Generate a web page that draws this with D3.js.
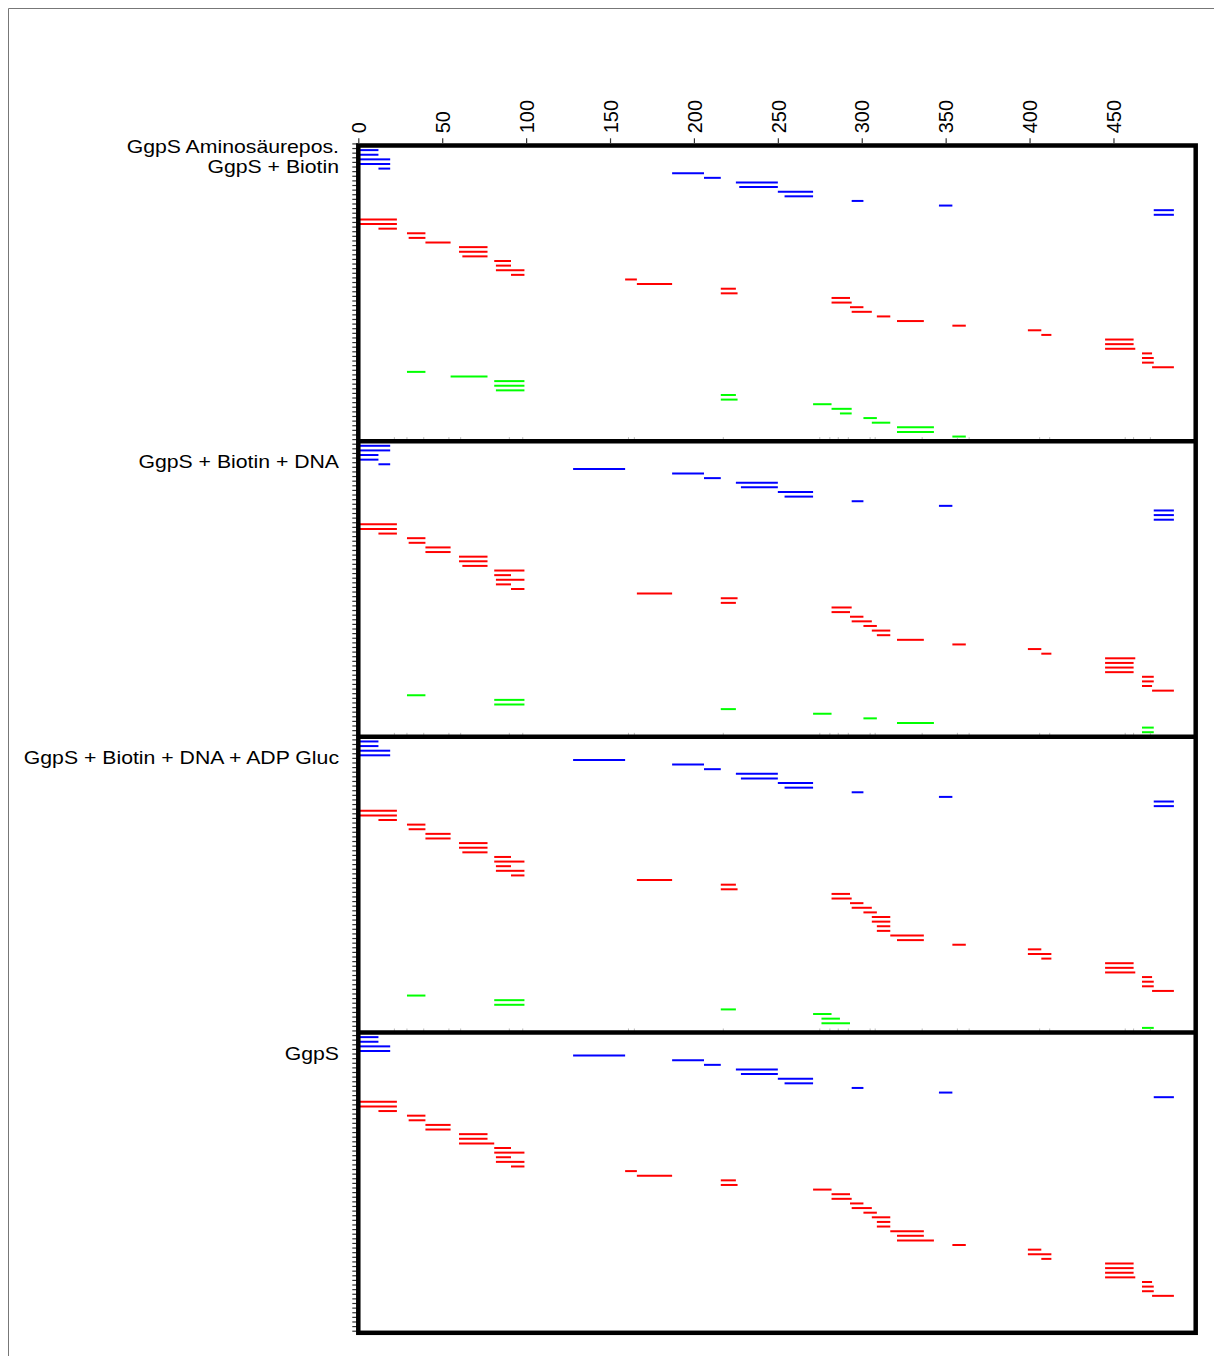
<!DOCTYPE html>
<html>
<head>
<meta charset="utf-8">
<script src="https://cdn.jsdelivr.net/npm/d3@7"></script>
<style>
  body { margin: 0; background: #fff; }
  text { font-family: "Liberation Sans", Arial, sans-serif; }
</style>
</head>
<body>
<script>

// residue axis
var residueTicks = [0, 50, 100, 150, 200, 250, 300, 350, 400, 450];
var headerLabel = "GgpS Aminosäurepos.";
var panelLabels = ["GgpS + Biotin", "GgpS + Biotin + DNA", "GgpS + Biotin + DNA + ADP Gluc", "GgpS"];

// faint marks on the panel separators
var minorTicks = [21.5, 29, 39, 54, 61, 90, 98, 161, 164.5, 217.5, 275, 281, 286, 292, 305, 308, 336, 357, 364, 406, 412, 457, 462, 472];

// peptides [start, end] listed row by row (blue, then red, then green)
var blueBiotin = [[1,12],[1,12],[1,19],[1,19],[12,19],[187,206],[206,216],[225,250],[227,250],[250,271],[254,271],[294,301],[346,354],[474,486],[474,486]];
var redBiotin = [[1,23],[1,23],[12,23],[29,40],[30,40],[40,55],[60,77],[60,77],[62,77],[81,91],[82,91],[82,99],[91,99],[159,166],[166,187],[216,225],[216,226],[282,293],[282,294],[293,301],[294,306],[309,317],[321,337],[354,362],[399,407],[407,413],[445,462],[445,462],[445,463],[467,473],[467,474],[467,474],[473,486]];
var greenBiotin = [[29,40],[55,77],[81,99],[81,99],[82,99],[216,225],[216,226],[271,282],[282,294],[287,294],[301,309],[306,317],[321,343],[321,343],[354,362]];

var blueDNA = [[1,19],[1,19],[1,12],[1,12],[12,19],[128,159],[187,206],[206,216],[225,250],[228,250],[250,271],[254,271],[294,301],[346,354],[474,486],[474,486],[474,486]];
var redDNA = [[1,23],[1,23],[12,23],[29,40],[30,40],[40,55],[40,55],[60,77],[60,77],[62,77],[81,99],[81,91],[82,99],[82,91],[91,99],[166,187],[216,226],[216,225],[282,294],[282,293],[293,301],[294,306],[301,309],[306,317],[309,317],[321,337],[354,362],[399,407],[407,413],[445,463],[445,462],[445,462],[445,462],[467,474],[467,474],[467,473],[473,486]];
var greenDNA = [[29,40],[81,99],[81,99],[216,225],[271,282],[301,309],[321,343],[467,474],[467,474]];

var blueADP = [[1,12],[1,12],[1,19],[1,19],[128,159],[187,206],[206,216],[225,250],[228,250],[250,271],[254,271],[294,301],[346,354],[474,486],[474,486]];
var redADP = [[1,23],[1,23],[12,23],[29,40],[30,40],[40,55],[40,55],[60,77],[60,77],[62,77],[81,91],[81,99],[82,91],[82,99],[91,99],[166,187],[216,225],[216,226],[282,293],[282,294],[293,301],[294,306],[301,309],[306,317],[306,317],[309,317],[309,317],[317,337],[321,337],[354,362],[399,407],[399,413],[407,413],[445,462],[445,462],[445,463],[467,473],[467,474],[467,474],[473,486]];
var greenADP = [[29,40],[81,99],[81,99],[216,225],[271,282],[276,287],[276,293],[467,474]];

var blueGgpS = [[1,12],[1,12],[1,19],[1,19],[128,159],[187,206],[206,216],[225,250],[228,250],[250,271],[254,271],[294,301],[346,354],[474,486]];
var redGgpS = [[1,23],[1,23],[12,23],[29,40],[30,40],[40,55],[40,55],[60,77],[60,77],[60,81],[81,91],[81,99],[82,91],[82,99],[91,99],[159,166],[166,187],[216,225],[216,226],[271,282],[282,293],[282,294],[293,301],[294,306],[301,309],[306,317],[309,317],[309,317],[317,337],[321,337],[321,343],[354,362],[399,407],[399,413],[407,413],[445,462],[445,462],[445,462],[445,463],[467,473],[467,474],[467,474],[473,486]];
var greenGgpS = [];

var rowsPerPanel = 64;
var totalRows = 257;

function drawD3(){

	var w = 1214;
	var h = 1356;

	var svg = d3.select("body")
		.append("svg")
		.attr("width", w)
		.attr("height", h);

	var x = d3.scaleLinear().domain([0, 499]).range([358.3, 1195.7]);
	var y = d3.scaleLinear().domain([0, totalRows]).range([145.5, 1332.8]);

	// outer frame (only left and top edges visible)
	svg.append("line").attr("x1", 8.5).attr("y1", 8.5).attr("x2", 8.5).attr("y2", h)
		.attr("stroke", "#777").attr("stroke-width", 1);
	svg.append("line").attr("x1", 8.5).attr("y1", 8.5).attr("x2", w).attr("y2", 8.5)
		.attr("stroke", "#777").attr("stroke-width", 1);

	// build peptide rows
	var panels = [
		[blueBiotin, redBiotin, greenBiotin],
		[blueDNA, redDNA, greenDNA],
		[blueADP, redADP, greenADP],
		[blueGgpS, redGgpS, greenGgpS]
	];
	var colors = ["#0000ff", "#ff0000", "#00ff00"];

	var peptides = [];
	panels.forEach(function(p, pi) {
		var row = 1;
		p.forEach(function(list, ci) {
			list.forEach(function(d) {
				peptides.push({start: d[0], end: d[1], row: pi * rowsPerPanel + row, color: colors[ci]});
				row++;
			});
		});
	});

	// row ticks on the left
	var rowTicks = d3.range(-1, totalRows).map(function(k) { return k + 0.55; });
	svg.append("g")
		.attr("transform", "translate(" + x(0) + ",0)")
		.call(d3.axisLeft(y).tickValues(rowTicks).tickSize(6).tickFormat(""))
		.call(function(g) {
			g.select(".domain").remove();
			g.selectAll(".tick line").attr("stroke", "#333").attr("stroke-width", 1.2);
		});

	// peptide segments
	svg.selectAll(".pep")
		.data(peptides)
		.enter()
		.append("line")
		.attr("class", "pep")
		.attr("x1", function(d) { return x(d.start); })
		.attr("x2", function(d) { return x(d.end); })
		.attr("y1", function(d) { return y(d.row); })
		.attr("y2", function(d) { return y(d.row); })
		.attr("stroke", function(d) { return d.color; })
		.attr("stroke-width", 2);

	// faint marks on separators
	[1, 2, 3].forEach(function(k) {
		svg.selectAll(".minor" + k)
			.data(minorTicks)
			.enter()
			.append("line")
			.attr("x1", function(d) { return x(d); })
			.attr("x2", function(d) { return x(d); })
			.attr("y1", y(k * rowsPerPanel) - 4)
			.attr("y2", y(k * rowsPerPanel))
			.attr("stroke", "#aaa")
			.attr("stroke-width", 0.8);
	});

	// frame and panel separators
	svg.append("rect")
		.attr("x", x(0)).attr("y", y(0))
		.attr("width", x(499) - x(0)).attr("height", y(totalRows) - y(0))
		.attr("fill", "none").attr("stroke", "#000").attr("stroke-width", 4.5);

	svg.selectAll(".sep")
		.data([1, 2, 3])
		.enter()
		.append("line")
		.attr("class", "sep")
		.attr("x1", x(0)).attr("x2", x(499))
		.attr("y1", function(d) { return y(d * rowsPerPanel); })
		.attr("y2", function(d) { return y(d * rowsPerPanel); })
		.attr("stroke", "#000").attr("stroke-width", 4.5);

	// residue axis on top
	svg.append("g")
		.attr("transform", "translate(0," + (y(0) - 2.2) + ")")
		.call(d3.axisTop(x).tickValues(residueTicks).tickSize(5).tickPadding(0))
		.call(function(g) {
			g.select(".domain").remove();
			g.selectAll(".tick line").attr("stroke", "#333").attr("stroke-width", 1.2);
			g.selectAll(".tick text")
				.attr("transform", "rotate(-90)")
				.attr("x", 10)
				.attr("y", 0)
				.attr("dy", "0.36em")
				.style("text-anchor", "start")
				.style("font-size", "20px")
				.style("font-family", "'Liberation Sans', Arial, sans-serif")
				.attr("fill", "#000");
		});

	// labels on the left
	var labelX = 339;
	svg.append("text")
		.attr("transform", "translate(" + labelX + ",153) scale(1.18,1)")
		.attr("text-anchor", "end")
		.attr("font-size", "18px")
		.text(headerLabel);

	svg.selectAll(".plabel")
		.data(panelLabels)
		.enter()
		.append("text")
		.attr("class", "plabel")
		.attr("transform", function(d, i) { return "translate(" + labelX + "," + (y(i * rowsPerPanel) + 27) + ") scale(1.18,1)"; })
		.attr("text-anchor", "end")
		.attr("font-size", "18px")
		.text(function(d) { return d; });
}

drawD3();
</script>
</body>
</html>
